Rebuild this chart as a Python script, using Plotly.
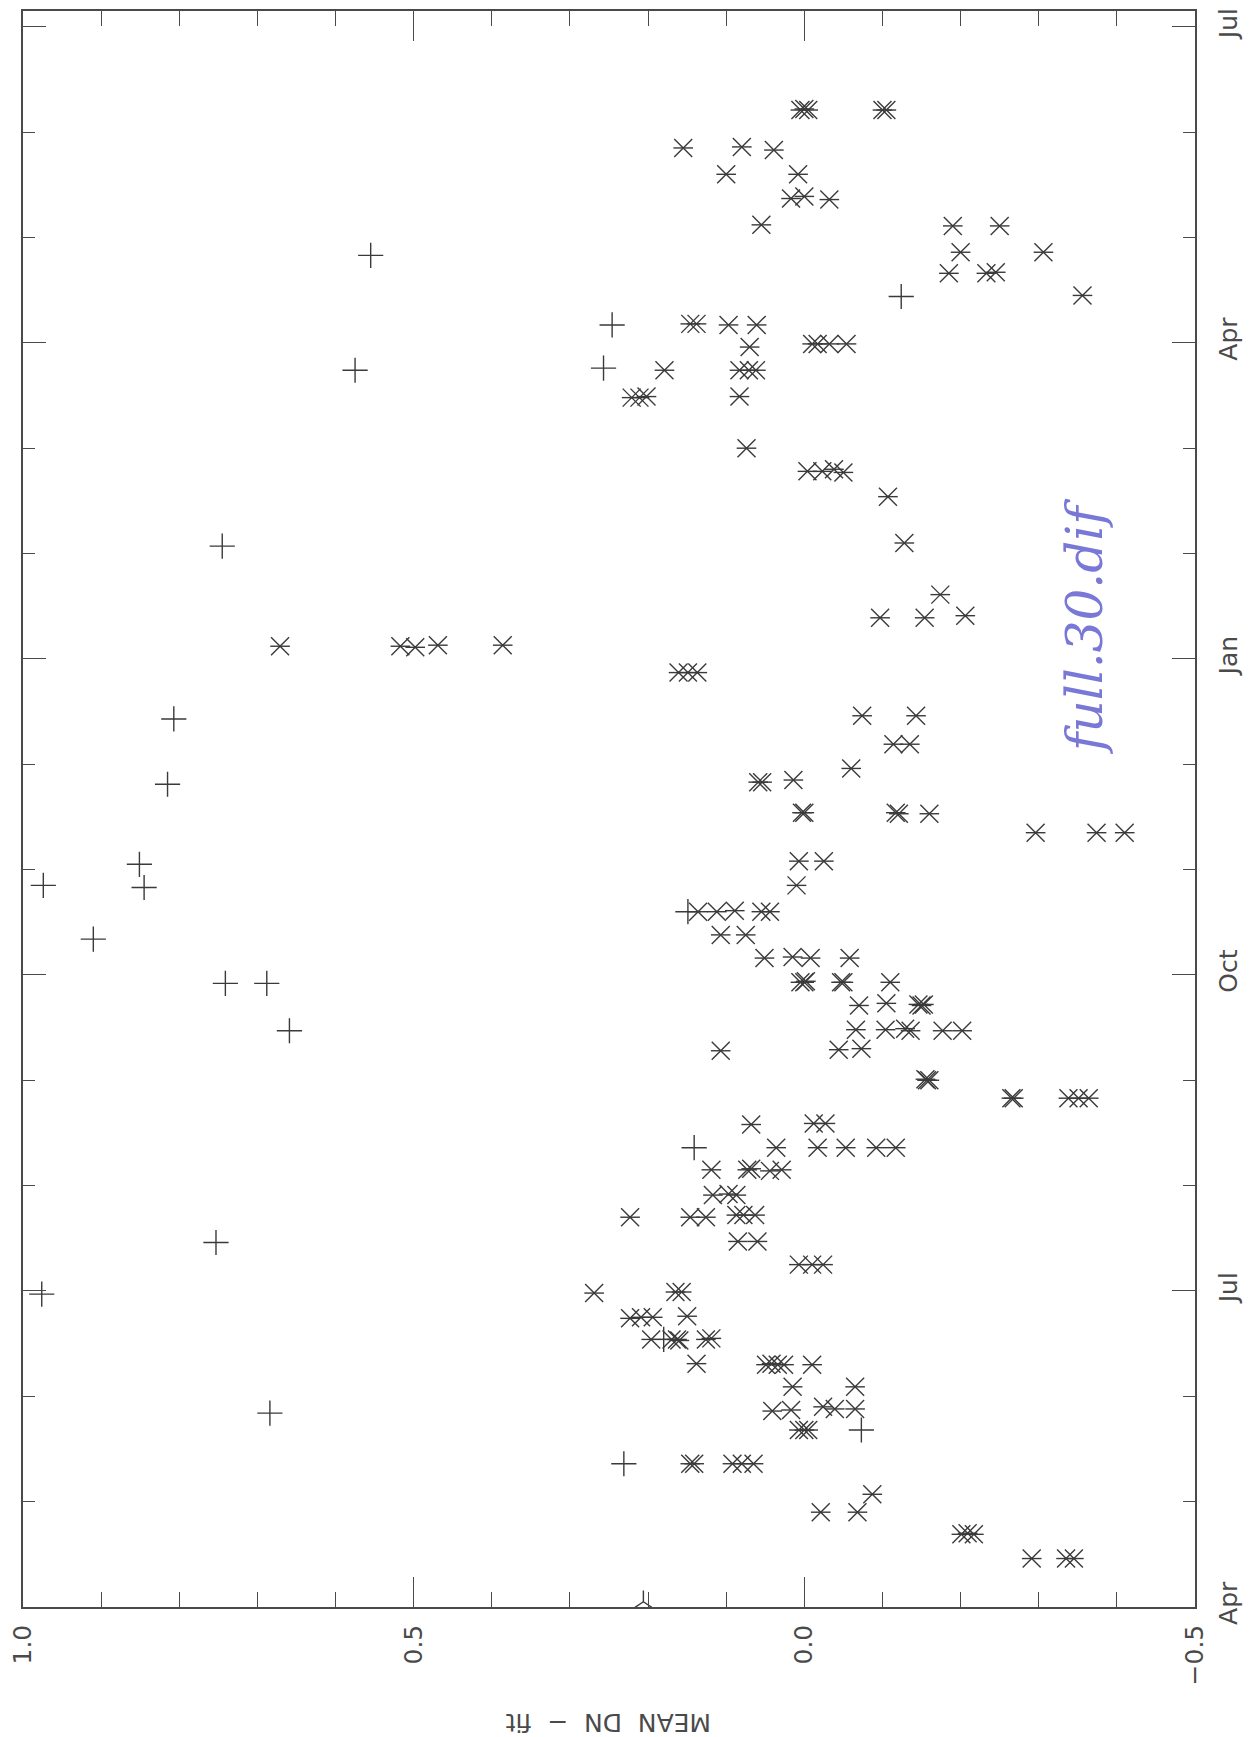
import plotly.graph_objects as go

# Time axis: months since 1 April (0 = Apr, 3 = Jul, 6 = Oct, 9 = Jan, 12 = Apr, 15 = Jul)
month_ticks = [0, 3, 6, 9, 12, 15]
month_labels = ["Apr", "Jul", "Oct", "Jan", "Apr", "Jul"]
value_ticks = [1.0, 0.5, 0.0, -0.5]
value_labels = ["1.0", "0.5", "0.0", "\u22120.5"]

# "+" points (value = MEAN DN - fit, month = months since April)
plus_val = [0.555, -0.124, 0.246, 0.575, 0.257,
            0.745, 0.807, 0.815,
            0.851, 0.974, 0.845, 0.149, 0.91, 0.741, 0.688, 0.659, 0.141,
            0.753, 0.976, 0.18, 0.684, -0.073, 0.231]
plus_month = [12.83, 12.44, 12.17, 11.74, 11.76,
              10.07, 8.43, 7.81,
              7.05, 6.85, 6.83, 6.60, 6.34, 5.92, 5.92, 5.47, 4.36,
              3.46, 2.97, 2.54, 1.84, 1.68, 1.36]

# "*" points
star_val = [0.005, -0.005, 0.0, -0.10, -0.105,
            0.155, 0.08, 0.039,
            0.10, 0.008,
            0.017, 0.0, -0.032,
            0.055, -0.19, -0.25,
            -0.20, -0.306,
            -0.185, -0.233, -0.245,
            -0.356,
            0.146, 0.138, 0.097, 0.061,
            0.07, -0.01, -0.017, -0.032, -0.054,
            0.179, 0.083, 0.071, 0.062,
            0.221, 0.211, 0.202, 0.083,
            0.074,
            -0.004, -0.023, -0.038, -0.05,
            -0.107, -0.128, -0.174,
            -0.097, -0.154, -0.206,
            0.671, 0.517, 0.498, 0.469, 0.386,
            0.161, 0.149, 0.137,
            -0.074, -0.143,
            -0.114, -0.135,
            -0.06,
            0.059, 0.054, 0.014,
            0.0, 0.003, -0.117, -0.121, -0.16,
            -0.296, -0.374, -0.41,
            0.007, -0.025,
            0.01,
            0.136, 0.112, 0.089, 0.055, 0.044,
            0.107, 0.075,
            0.051, 0.015, -0.008, -0.058,
            0.005, 0.0, -0.002, -0.047, -0.05, -0.11,
            -0.07, -0.105, -0.146, -0.153, -0.15,
            -0.066, -0.104, -0.129, -0.136, -0.177, -0.202,
            0.107, -0.044, -0.073,
            -0.157, -0.16, -0.155,
            -0.265, -0.268, -0.338, -0.351, -0.364,
            0.068, -0.012, -0.027,
            0.036, -0.017, -0.053, -0.092, -0.117,
            0.119, 0.073, 0.068, 0.044, 0.029,
            0.117, 0.097, 0.087,
            0.223, 0.146, 0.126, 0.087, 0.078, 0.063,
            0.085, 0.06,
            0.007, -0.01, -0.024,
            0.269, 0.165, 0.157,
            0.223, 0.209, 0.194, 0.150,
            0.196, 0.17, 0.163, 0.16, 0.126, 0.119,
            0.138,
            0.049, 0.042, 0.034, 0.026, -0.01,
            0.015, -0.065,
            0.041, 0.017, -0.024, -0.039, -0.065,
            0.007, 0.0, -0.005,
            0.146, 0.141, 0.092, 0.08, 0.065,
            -0.087, -0.021, -0.068,
            -0.201, -0.209, -0.217,
            -0.291, -0.335, -0.345]
star_month = [14.21, 14.21, 14.22, 14.21, 14.21,
              13.85, 13.86, 13.83,
              13.60, 13.60,
              13.37, 13.39, 13.36,
              13.12, 13.11, 13.11,
              12.86, 12.86,
              12.66, 12.66, 12.67,
              12.45,
              12.18, 12.18, 12.17, 12.17,
              11.96, 11.99, 11.99, 11.99, 11.99,
              11.74, 11.74, 11.74, 11.74,
              11.48, 11.48, 11.49, 11.49,
              11.0,
              10.78, 10.78, 10.80, 10.77,
              10.54, 10.10, 9.61,
              9.39, 9.39, 9.41,
              9.12, 9.12, 9.11, 9.13, 9.13,
              8.87, 8.87, 8.87,
              8.46, 8.46,
              8.19, 8.19,
              7.96,
              7.83, 7.83, 7.85,
              7.54, 7.54, 7.54, 7.53, 7.53,
              7.35, 7.35, 7.35,
              7.08, 7.08,
              6.85,
              6.60, 6.60, 6.61, 6.60, 6.60,
              6.38, 6.38,
              6.16, 6.17, 6.16, 6.16,
              5.93, 5.93, 5.94, 5.93, 5.93, 5.93,
              5.71, 5.73, 5.72, 5.72, 5.71,
              5.48, 5.48, 5.49, 5.47, 5.47, 5.47,
              5.28, 5.29, 5.30,
              5.0, 5.0, 5.01,
              4.83, 4.83, 4.83, 4.83, 4.83,
              4.58, 4.59, 4.59,
              4.36, 4.36, 4.36, 4.36, 4.36,
              4.15, 4.15, 4.16, 4.14, 4.15,
              3.91, 3.92, 3.91,
              3.70, 3.70, 3.70, 3.72, 3.72, 3.72,
              3.47, 3.47,
              3.25, 3.25, 3.25,
              2.98, 2.99, 2.99,
              2.74, 2.75, 2.75, 2.76,
              2.54, 2.54, 2.54, 2.53, 2.54, 2.55,
              2.31,
              2.30, 2.31, 2.30, 2.30, 2.30,
              2.09, 2.09,
              1.86, 1.87, 1.90, 1.88, 1.88,
              1.68, 1.68, 1.68,
              1.36, 1.36, 1.36, 1.36, 1.36,
              1.07, 0.90, 0.90,
              0.69, 0.70, 0.69,
              0.46, 0.46, 0.46]

# off-scale point drawn as an arrow at the bottom edge
limit_val = [0.206]
limit_month = [0.05]

INK = "#3a3a3a"
AX = "#4a4a4a"
FONT = "DejaVu Sans"

fig = go.Figure()
fig.add_trace(go.Scatter(
    x=plus_val, y=plus_month, mode="markers", cliponaxis=False,
    marker=dict(symbol="cross-thin-open", size=18, color=INK, line=dict(color=INK, width=1.4)),
    showlegend=False))
fig.add_trace(go.Scatter(
    x=star_val, y=star_month, mode="markers", cliponaxis=False,
    marker=dict(symbol="x-thin-open", size=18, color=INK, line=dict(color=INK, width=1.4)),
    showlegend=False))
fig.add_trace(go.Scatter(
    x=star_val, y=star_month, mode="markers", cliponaxis=False,
    marker=dict(symbol="line-ew-open", size=14, color=INK, line=dict(color=INK, width=1.4)),
    showlegend=False))
fig.add_trace(go.Scatter(
    x=limit_val, y=limit_month, mode="markers", cliponaxis=False,
    marker=dict(symbol="y-up-open", size=14, color=INK, line=dict(color=INK, width=1.4)),
    showlegend=False))

fig.update_layout(
    width=1251, height=1737,
    margin=dict(l=20, r=55, t=8, b=130),
    paper_bgcolor="white", plot_bgcolor="white",
    font=dict(family=FONT, color=AX),
    xaxis=dict(
        range=[1.0, -0.5], tickvals=value_ticks, ticktext=value_labels,
        tickangle=-90, tickfont=dict(size=25, color=AX),
        ticks="inside", ticklen=30, tickwidth=1.2, tickcolor=AX,
        minor=dict(dtick=0.1, tick0=0, ticks="inside", ticklen=15, tickwidth=1.2, tickcolor=AX),
        showline=True, linecolor=AX, linewidth=1.5, mirror="allticks",
        showgrid=False, zeroline=False, ticklabelstandoff=6),
    yaxis=dict(
        range=[0, 15.15], side="right", tickvals=month_ticks, ticktext=month_labels,
        tickangle=-90, tickfont=dict(size=25, color=AX),
        ticks="inside", ticklen=23, tickwidth=1.2, tickcolor=AX,
        minor=dict(dtick=1, tick0=0, ticks="inside", ticklen=12, tickwidth=1.2, tickcolor=AX),
        showline=True, linecolor=AX, linewidth=1.5, mirror="allticks",
        showgrid=False, zeroline=False, ticklabelstandoff=10),
    annotations=[
        dict(text="MEAN  DN  \u2212  fit", xref="paper", yref="paper", x=0.5, y=-0.072,
             xanchor="center", yanchor="middle", showarrow=False, textangle=180,
             font=dict(family=FONT, size=25, color=AX)),
        dict(text="full.30.dif", xref="x", yref="y", x=-0.36, y=9.3,
             xanchor="center", yanchor="middle", showarrow=False, textangle=-90,
             font=dict(family="DejaVu Serif", size=50, color="#7a78d6", style="italic")),
    ],
)

fig.write_html("out.html")
